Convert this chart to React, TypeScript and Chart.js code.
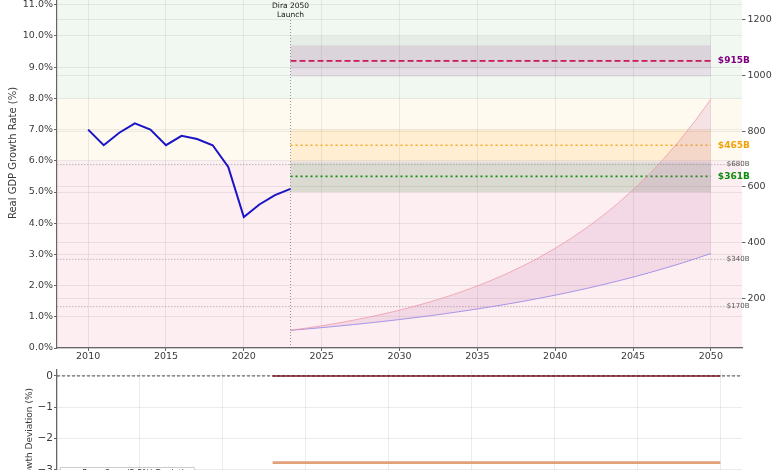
import React, { useEffect, useRef } from 'react';
import { Chart, registerables } from 'chart.js';

Chart.register(...registerables);

const FONT = '"DejaVu Sans", Verdana, sans-serif';
const TXT = '#3a3a3a';
const GRID = 'rgba(0,0,0,0.075)';

// ---------------- data ----------------
const histYears = [2010, 2011, 2012, 2013, 2014, 2015, 2016, 2017, 2018, 2019, 2020, 2021, 2022, 2023];
const histGrowth = [7.0, 6.5, 6.9, 7.2, 7.0, 6.5, 6.8, 6.7, 6.5, 5.8, 4.2, 4.6, 4.9, 5.1];

const projYears = [2023, 2024, 2025, 2026, 2027, 2028, 2029, 2030, 2031, 2032, 2033, 2034, 2035, 2036,
  2037, 2038, 2039, 2040, 2041, 2042, 2043, 2044, 2045, 2046, 2047, 2048, 2049, 2050];
const upperGdp = [85, 92.8, 101.4, 110.7, 120.9, 132.0, 144.1, 157.4, 171.9, 187.7, 205.0, 223.8, 244.4, 266.9,
  291.4, 318.2, 347.5, 379.5, 414.4, 452.5, 494.1, 539.6, 589.2, 643.5, 702.7, 767.3, 837.9, 915.0];
const lowerGdp = [85, 89.7, 94.6, 99.8, 105.3, 111.1, 117.2, 123.7, 130.5, 137.6, 145.2, 153.2, 161.6, 170.5,
  179.9, 189.8, 200.2, 211.2, 222.8, 235.1, 248.0, 261.7, 276.0, 291.2, 307.2, 324.1, 342.0, 360.8];

const zoneFrom = [0, 6, 8];
const zoneTo = [6, 8, 12.5];

const targetRates = [9.2, 6.5, 5.5];
const targetLabels = ['$915B', '$465B', '$361B'];
const targetLow = [8.7, 6.0, 5.0];
const targetHigh = [9.7, 7.0, 5.95];
const grayLow = [8.96, 5.0];
const grayHigh = [10.0, 6.0];

const refGdp = [680, 340, 170];
const refLabels = ['$680B', '$340B', '$170B'];

const launchYear = 2023;
const projEnd = 2050;
const launchLineTop = 10.6;
const launchText = ['Dira 2050', 'Launch'];

const xTicks = [2010, 2015, 2020, 2025, 2030, 2035, 2040, 2045, 2050];
const growthTicks = [0, 1, 2, 3, 4, 5, 6, 7, 8, 9, 10, 11, 12];
const gdpTicks = [200, 400, 600, 800, 1000, 1200, 1400];

const devYears = [2023, 2050];
const devBase = [0, 0];
const devDira = [-2.77, -2.77];
const devTicks = [0, -1, -2, -3, -4];
const legendText = 'Base Case (5.5%) Deviation';

// ---------------- styles ----------------
const zoneColors = ['rgba(230,0,40,0.065)', 'rgba(255,165,0,0.06)', 'rgba(0,128,0,0.055)'];
const bandColors = ['rgba(128,0,128,0.1)', 'rgba(255,165,0,0.13)', 'rgba(0,128,0,0.09)'];
const grayBand = 'rgba(128,128,128,0.1)';
const lineColors = ['rgb(200,25,90)', 'rgb(245,170,40)', 'rgb(20,140,20)'];
const lineDashes = [[6, 3], [2, 3], [2, 3]];
const labelColors = ['#800080', '#f2a20a', '#0f8a0f'];

const pts = (xs: number[], ys: number[]) => xs.map((x, i) => ({ x, y: ys[i] }));
const setTicks = (vals: number[]) => (s: any) => { s.ticks = vals.map((v) => ({ value: v })); };
const fitW = (w: number) => (s: any) => { s.width = w; s.paddingTop = 0; s.paddingBottom = 0; s.paddingLeft = 0; s.paddingRight = 0; };
const fitH = (h: number) => (s: any) => { s.height = h; s.paddingTop = 0; s.paddingBottom = 0; s.paddingLeft = 0; s.paddingRight = 0; };

const topDecor = {
  id: 'topDecor',
  beforeDraw(chart: any) {
    const { ctx, chartArea: a } = chart;
    const y = chart.scales.y;
    ctx.save();
    zoneFrom.forEach((f, i) => {
      const t = Math.max(y.getPixelForValue(zoneTo[i]), a.top);
      const b = Math.min(y.getPixelForValue(f), a.bottom);
      ctx.fillStyle = zoneColors[i];
      ctx.fillRect(a.left, t, a.right - a.left, b - t);
    });
    ctx.restore();
  },
  beforeDatasetsDraw(chart: any) {
    const { ctx } = chart;
    const x = chart.scales.x;
    const y = chart.scales.y;
    const x0 = x.getPixelForValue(launchYear);
    const x1 = x.getPixelForValue(projEnd);
    ctx.save();
    grayLow.forEach((lo, i) => {
      const t = y.getPixelForValue(grayHigh[i]);
      const b = y.getPixelForValue(lo);
      ctx.fillStyle = grayBand;
      ctx.fillRect(x0, t, x1 - x0, b - t);
    });
    targetLow.forEach((lo, i) => {
      const t = y.getPixelForValue(targetHigh[i]);
      const b = y.getPixelForValue(lo);
      ctx.fillStyle = bandColors[i];
      ctx.fillRect(x0, t, x1 - x0, b - t);
    });
    ctx.restore();
  },
  afterDatasetsDraw(chart: any) {
    const { ctx } = chart;
    const x = chart.scales.x;
    const y = chart.scales.y;
    const y1 = chart.scales.y1;
    const xe = x.getPixelForValue(projEnd);
    ctx.save();
    ctx.textBaseline = 'middle';
    ctx.textAlign = 'left';
    ctx.font = `bold 9px ${FONT}`;
    targetRates.forEach((r, i) => {
      ctx.fillStyle = labelColors[i];
      ctx.fillText(targetLabels[i], xe + 7, y.getPixelForValue(r));
    });
    ctx.font = `7px ${FONT}`;
    ctx.fillStyle = '#555';
    refGdp.forEach((v, i) => {
      ctx.fillText(refLabels[i], xe + 16, y1.getPixelForValue(v));
    });
    ctx.textAlign = 'center';
    ctx.font = `7.5px ${FONT}`;
    ctx.fillStyle = '#111';
    const lx = x.getPixelForValue(launchYear);
    const ly = y.getPixelForValue(launchLineTop);
    ctx.fillText(launchText[0], lx, ly - 11.5);
    ctx.fillText(launchText[1], lx, ly - 2.5);
    ctx.restore();
  },
};

const botDecor = {
  id: 'botDecor',
  afterDraw(chart: any) {
    const { ctx } = chart;
    const x = chart.scales.x;
    const lx = x.getPixelForValue(2010.2);
    ctx.save();
    ctx.fillStyle = 'rgba(255,255,255,0.85)';
    ctx.strokeStyle = 'rgba(0,0,0,0.2)';
    ctx.lineWidth = 1;
    ctx.beginPath();
    ctx.rect(lx, 102.5, 134, 40);
    ctx.fill();
    ctx.stroke();
    ctx.fillStyle = '#333';
    ctx.font = `8px ${FONT}`;
    ctx.textBaseline = 'top';
    ctx.textAlign = 'left';
    ctx.fillText(legendText, lx + 22, 104.5);
    ctx.restore();
  },
};

function topConfig(): any {
  const tickFont = { family: FONT, size: 9.5 };
  return {
    type: 'line',
    data: {
      datasets: [
        { data: pts(histYears, histGrowth), yAxisID: 'y', borderColor: '#1a14c6', borderWidth: 2, pointRadius: 0, tension: 0 },
        { data: pts(projYears, upperGdp), yAxisID: 'y1', borderColor: 'rgba(238,150,165,0.75)', borderWidth: 1, pointRadius: 0, fill: false },
        { data: pts(projYears, lowerGdp), yAxisID: 'y1', borderColor: 'rgba(160,140,230,0.9)', borderWidth: 1, pointRadius: 0, fill: '-1', backgroundColor: 'rgba(190,90,160,0.15)' },
        ...targetRates.map((r, i) => ({
          data: pts([launchYear, projEnd], [r, r]), yAxisID: 'y', borderColor: lineColors[i], borderWidth: i === 0 ? 1.8 : 1.6,
          borderDash: lineDashes[i], pointRadius: 0, fill: false,
        })),
        ...refGdp.map((v) => ({
          data: pts([2008, 2052], [v, v]), yAxisID: 'y1', borderColor: 'rgba(110,110,110,0.45)', borderWidth: 1,
          borderDash: [1.5, 1.5], pointRadius: 0, fill: false,
        })),
        { data: pts([launchYear, launchYear], [0, launchLineTop]), yAxisID: 'y', borderColor: 'rgba(120,120,120,0.75)', borderWidth: 1, borderDash: [1, 2], pointRadius: 0, fill: false },
      ],
    },
    options: {
      animation: false,
      responsive: false,
      layout: { padding: 0 },
      plugins: { legend: { display: false }, tooltip: { enabled: false } },
      scales: {
        x: {
          type: 'linear', min: 2008, max: 2052,
          afterBuildTicks: setTicks(xTicks),
          afterFit: fitH(17),
          ticks: { callback: (v: any) => String(v), font: tickFont, color: TXT, padding: 0, maxRotation: 0, autoSkip: false },
          grid: { color: GRID, tickLength: 3, tickColor: '#666' },
          border: { color: '#666', width: 1.2 },
        },
        y: {
          position: 'left', min: 0, max: 12.5,
          afterBuildTicks: setTicks(growthTicks),
          afterFit: fitW(57),
          ticks: { callback: (v: any) => Number(v).toFixed(1) + '%', font: tickFont, color: TXT, padding: 1 },
          grid: { color: GRID, tickLength: 3, tickColor: '#666' },
          border: { color: '#666', width: 1.2 },
          title: { display: true, text: 'Real GDP Growth Rate (%)', font: { family: FONT, size: 10 }, color: TXT, padding: { top: 7, bottom: 0 } },
        },
        y1: {
          position: 'right', min: 21.5, max: 1422,
          afterBuildTicks: setTicks(gdpTicks),
          afterFit: fitW(38),
          ticks: { callback: (v: any) => String(v), font: tickFont, color: TXT, padding: 2 },
          grid: { color: GRID, tickLength: 3.5, tickColor: '#666' },
          border: { display: false },
        },
      },
    },
    plugins: [topDecor],
  };
}

function botConfig(): any {
  return {
    type: 'line',
    data: {
      datasets: [
        { data: pts([2010, 2051.3], [0, 0]), borderColor: 'rgba(40,40,40,0.85)', borderWidth: 1, borderDash: [3, 2], pointRadius: 0, fill: false },
        { data: pts(devYears, devBase), borderColor: 'rgb(150,20,45)', borderWidth: 1.6, pointRadius: 0, fill: false },
        { data: pts(devYears, devDira), borderColor: 'rgb(226,160,120)', borderWidth: 2.6, pointRadius: 0, fill: false },
      ],
    },
    options: {
      animation: false,
      responsive: false,
      layout: { padding: { top: 5, right: 38, left: 0, bottom: 0 } },
      plugins: { legend: { display: false }, tooltip: { enabled: false } },
      scales: {
        x: {
          type: 'linear', min: 2010, max: 2051.3,
          afterBuildTicks: setTicks(xTicks),
          afterFit: fitH(67),
          ticks: { display: false },
          grid: { color: GRID, drawTicks: false },
          border: { color: '#666', width: 1.2 },
        },
        y: {
          position: 'left', min: -4.06, max: 0.19,
          afterBuildTicks: setTicks(devTicks),
          afterFit: fitW(57),
          ticks: { callback: (v: any) => (v === 0 ? '0' : '\u2212' + Math.abs(v)), font: { family: FONT, size: 10.5 }, color: TXT, padding: 1 },
          grid: { color: GRID, tickLength: 3, tickColor: '#666' },
          border: { color: '#666', width: 1.2 },
          title: { display: true, text: 'Growth Deviation (%)', font: { family: FONT, size: 9 }, color: TXT, padding: { top: 24, bottom: 0 } },
        },
      },
    },
    plugins: [botDecor],
  };
}

export default function App() {
  const topRef = useRef<HTMLCanvasElement>(null);
  const botRef = useRef<HTMLCanvasElement>(null);
  useEffect(() => {
    const c1 = new Chart(topRef.current as HTMLCanvasElement, topConfig());
    const c2 = new Chart(botRef.current as HTMLCanvasElement, botConfig());
    return () => { c1.destroy(); c2.destroy(); };
  }, []);
  return (
    <div style={{ position: 'fixed', left: 0, top: 0, width: 780, height: 470, overflow: 'hidden', background: '#fff' }}>
      <canvas ref={topRef} width={780} height={407} style={{ position: 'absolute', left: 0, top: -42, display: 'block' }} />
      <canvas ref={botRef} width={780} height={205} style={{ position: 'absolute', left: 0, top: 365, display: 'block' }} />
    </div>
  );
}
